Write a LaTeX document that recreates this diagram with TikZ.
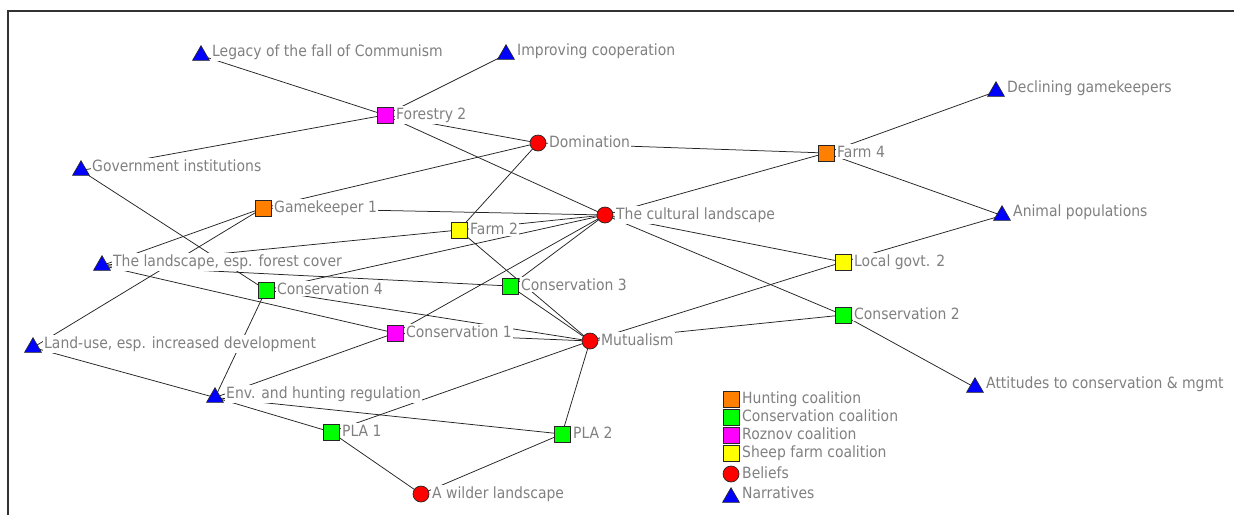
\documentclass[tikz,border=0pt]{standalone}
\usepackage{fontspec}
\setmainfont{DejaVu Sans}[FakeStretch=0.9]
\usetikzlibrary{shapes.geometric}
\pgfdeclarelayer{background}
\pgfsetlayers{background,main}

\definecolor{lblgray}{RGB}{128,128,128}
\definecolor{linkcol}{RGB}{35,35,35}
\definecolor{framecol}{RGB}{50,50,50}
\definecolor{huntcol}{RGB}{255,128,0}
\definecolor{conscol}{RGB}{0,255,0}
\definecolor{roznovcol}{RGB}{255,0,255}
\definecolor{sheepcol}{RGB}{255,255,0}
\definecolor{beliefcol}{RGB}{255,0,0}
\definecolor{narrcol}{RGB}{0,0,255}

\tikzset{
  markerbase/.style={draw=black!85, line width=0.7pt, inner sep=0pt, outer sep=0pt},
  sqr/.style={markerbase, rectangle, minimum size=16pt},
  blf/.style={markerbase, circle, fill=beliefcol, minimum size=16pt},
  nar/.style={markerbase, regular polygon, regular polygon sides=3, fill=narrcol, minimum size=19.5pt},
  lbl/.style={anchor=base west, fill=white, inner xsep=1pt, inner ysep=1.5pt,
    text=lblgray, font=\fontsize{15.5}{18}\selectfont},
  link/.style={draw=linkcol, line width=0.75pt},
}

% marker + label helpers (x, y in pixels, y downwards)
\newcommand\mksq[5]{%
  \node[sqr, fill=#2] (#1) at (#3,#4) {};
  \node[lbl] (#1-t) at (#3+10,#4+4) {#5};}
\newcommand\mkbel[4]{%
  \node[blf] (#1) at (#2,#3) {};
  \node[lbl] (#1-t) at (#2+10,#3+4) {#4};}
\newcommand\mknar[4]{%
  \node[nar] (#1) at (#2,#3+2.5) {};
  \node[lbl] (#1-t) at (#2+10,#3+3) {#4};}

\begin{document}
\begin{tikzpicture}[x=1pt, y=-1pt]
\useasboundingbox (0,0) rectangle (1234,515);
\begin{pgfonlayer}{background}
  \fill[white] (0,0) rectangle (1234,515);
\end{pgfonlayer}
\draw[framecol, line width=1.3pt] (8,515) -- (8,11) -- (1234,11);

% narratives
\mknar{legacy}{201}{53}{Legacy of the fall of Communism}
\mknar{improving}{506}{52}{Improving cooperation}
\mknar{gov}{81}{168}{Government institutions}
\mknar{landscape}{102}{263}{The landscape, esp. forest cover}
\mknar{landuse}{33}{345}{Land-use, esp. increased development}
\mknar{env}{215}{395}{Env. and hunting regulation}
\mknar{declining}{996}{89}{Declining gamekeepers}
\mknar{animal}{1002}{213}{Animal populations}
\mknar{attitudes}{975}{385}{Attitudes to conservation \& mgmt}

% beliefs
\mkbel{domination}{538}{143}{Domination}
\mkbel{cultural}{605}{215}{The cultural landscape}
\mkbel{mutualism}{590}{341}{Mutualism}
\mkbel{wilder}{421}{494}{A wilder landscape}

% coalition members
\mksq{forestry}{roznovcol}{385}{115}{Forestry 2}
\mksq{gamekeeper}{huntcol}{263}{208}{Gamekeeper 1}
\mksq{farmfour}{huntcol}{826}{153}{Farm 4}
\mksq{farmtwo}{sheepcol}{459}{230}{Farm 2}
\mksq{localgovt}{sheepcol}{843}{262}{Local govt. 2}
\mksq{consfour}{conscol}{266}{290}{Conservation 4}
\mksq{consthree}{conscol}{510}{286}{Conservation 3}
\mksq{consone}{roznovcol}{395}{333}{Conservation 1}
\mksq{constwo}{conscol}{843}{315}{Conservation 2}
\mksq{plaone}{conscol}{331}{432}{PLA 1}
\mksq{platwo}{conscol}{562}{434}{PLA 2}

% legend
\mksq{lghunt}{huntcol}{731}{399}{Hunting coalition}
\mksq{lgcons}{conscol}{731}{417}{Conservation coalition}
\mksq{lgroznov}{roznovcol}{731}{435}{Roznov coalition}
\mksq{lgsheep}{sheepcol}{731}{453}{Sheep farm coalition}
\mkbel{lgbelief}{731}{474}{Beliefs}
\mknar{lgnarr}{731}{495}{Narratives}

% ties
\begin{pgfonlayer}{background}
\foreach \a/\b in {
  legacy/forestry, improving/forestry, gov/forestry, gov/consfour,
  forestry/domination, forestry/cultural,
  gamekeeper/domination, gamekeeper/cultural, gamekeeper/landscape, gamekeeper/landuse,
  domination/farmfour, domination/farmtwo,
  farmfour/declining, farmfour/animal, farmfour/cultural,
  farmtwo/cultural, farmtwo/landscape, farmtwo/mutualism,
  cultural/localgovt, cultural/constwo, cultural/consfour, cultural/consone, cultural/consthree,
  localgovt/animal, localgovt/mutualism,
  constwo/mutualism, constwo/attitudes,
  consthree/landscape, consthree/mutualism,
  consfour/mutualism, consfour/env,
  consone/landscape, consone/env, consone/mutualism,
  landuse/env, env/plaone, env/platwo,
  plaone/mutualism, plaone/wilder, platwo/wilder, platwo/mutualism}
  \draw[link] (\a) -- (\b);
\end{pgfonlayer}
\end{tikzpicture}
\end{document}
